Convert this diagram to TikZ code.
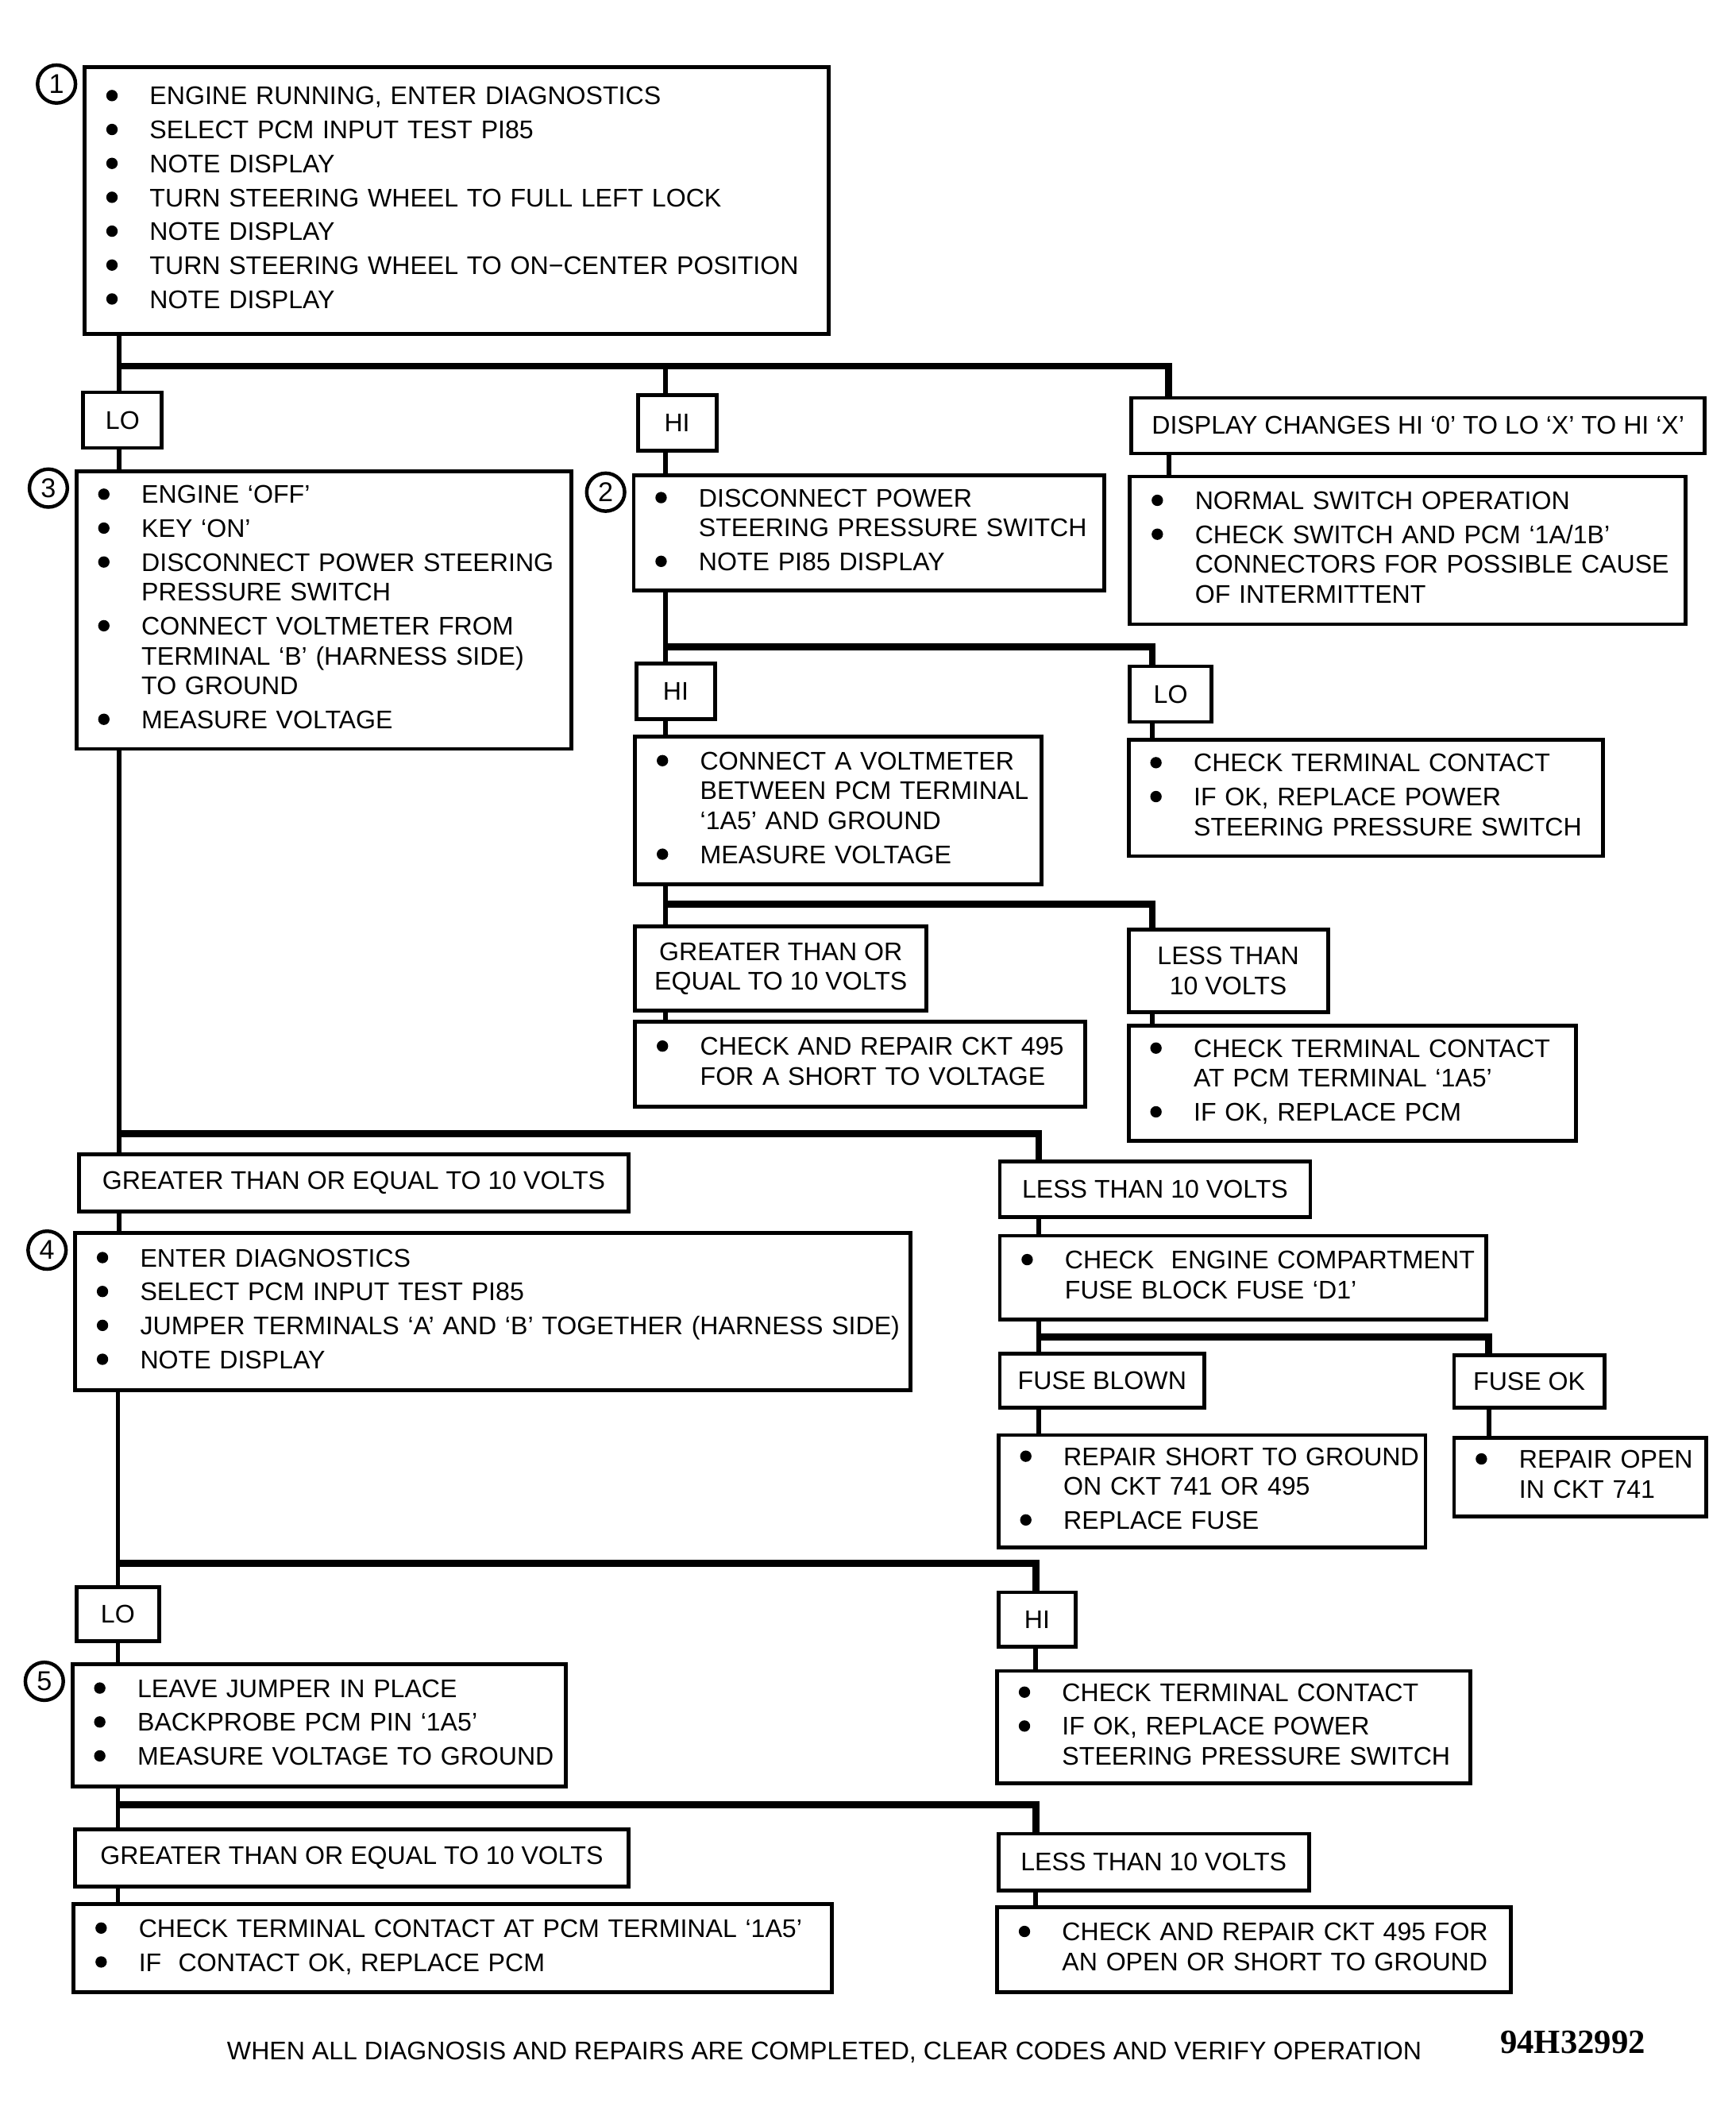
\documentclass[tikz,border=0pt]{standalone}
\usepackage{fontspec}
\setmainfont{Liberation Sans}
\newfontfamily\idfont{Liberation Serif}
\usetikzlibrary{positioning}

% bullet lists: \itm starts an item, \cnt adds a line to it
\newcommand{\itmdot}{\tikz[baseline=0pt, x=1pt, y=1pt]\fill (0,3.4) circle[radius=2.1pt];}
\newcommand{\itmlist}[1]{\noindent\gdef\itmsep{\gdef\itmsep{\\[1.5pt]}}%
    \begin{tabular}[t]{@{}l@{}l@{}}#1\end{tabular}}
\newcommand{\itm}[1]{\itmsep\makebox[16pt][l]{\itmdot} & #1}
\newcommand{\cnt}[1]{\\ & #1}

\begin{document}
\begin{tikzpicture}[
                    x=0.5pt,
                    y=-0.5pt,
                    line join=miter,
                    every node/.style={font=\fontsize{9.4}{11}\selectfont},
                    flowframe/.style n args={4}{draw, rectangle, line width=1.4pt,
                        at={(#1,#2)}, anchor=north west, inner sep=0pt,
                        minimum width={(#3-#1)*0.5pt}, minimum height={(#4-#2)*0.5pt}},
                    listbox/.style n args={4}{flowframe={#1}{#2}{#3}{#4},
                        inner xsep=8pt, text width={(#3-#1)*0.5pt-16pt}},
                    stepno/.style={draw, circle, line width=1.3pt, minimum size=14pt,
                        inner sep=0pt, anchor=east, font=\fontsize{10}{10}\selectfont},
                    conn/.style={line width=1.7pt},
                    bus/.style={line width=2.5pt}
                ]
                \useasboundingbox (0,0) rectangle (1280,1568);

                % x of the connector lines
                \coordinate (colL) at (88,0);
                \coordinate (colL2) at (87,0);
                \coordinate (colM) at (491,0);
                \coordinate (colR1) at (862,0);
                \coordinate (colR2) at (850,0);
                \coordinate (colR3) at (766,0);
                \coordinate (colR4) at (1098,0);
                \coordinate (colR5) at (764,0);

                % step 1
                \node[listbox={61}{48}{610}{245}] (engrun) {\itmlist{%
                    \itm{ENGINE RUNNING, ENTER DIAGNOSTICS}
                    \itm{SELECT PCM INPUT TEST PI85}
                    \itm{NOTE DISPLAY}
                    \itm{TURN STEERING WHEEL TO FULL LEFT LOCK}
                    \itm{NOTE DISPLAY}
                    \itm{TURN STEERING WHEEL TO ON−CENTER POSITION}
                    \itm{NOTE DISPLAY}}} ;
                \node[flowframe={60}{288}{118}{329}] (lo1) {LO} ;
                \node[flowframe={469}{290}{527}{331}] (hi1) {HI} ;
                \node[flowframe={833}{292}{1256}{333}] (dispchg) {DISPLAY CHANGES HI `0' TO LO `X' TO HI `X'} ;
                \node[listbox={832}{350}{1242}{459}] (normal) {\itmlist{%
                    \itm{NORMAL SWITCH OPERATION}
                    \itm{CHECK SWITCH AND PCM `1A/1B'}\cnt{CONNECTORS FOR POSSIBLE CAUSE}\cnt{OF INTERMITTENT}}} ;

                % step 3 and step 2
                \node[listbox={55}{346}{420}{551}] (step3) {\itmlist{%
                    \itm{ENGINE `OFF'}
                    \itm{KEY `ON'}
                    \itm{DISCONNECT POWER STEERING}\cnt{PRESSURE SWITCH}
                    \itm{CONNECT VOLTMETER FROM}\cnt{TERMINAL `B' (HARNESS SIDE)}\cnt{TO GROUND}
                    \itm{MEASURE VOLTAGE}}} ;
                \node[listbox={466}{349}{813}{434}] (step2) {\itmlist{%
                    \itm{DISCONNECT POWER}\cnt{STEERING PRESSURE SWITCH}
                    \itm{NOTE PI85 DISPLAY}}} ;
                \node[flowframe={468}{488}{526}{529}] (hi2) {HI} ;
                \node[flowframe={832}{490}{892}{531}] (lo2) {LO} ;
                \node[listbox={467}{542}{767}{651}] (voltm) {\itmlist{%
                    \itm{CONNECT A VOLTMETER}\cnt{BETWEEN PCM TERMINAL}\cnt{`1A5' AND GROUND}
                    \itm{MEASURE VOLTAGE}}} ;
                \node[listbox={831}{544}{1181}{630}] (termsw1) {\itmlist{%
                    \itm{CHECK TERMINAL CONTACT}
                    \itm{IF OK, REPLACE POWER}\cnt{STEERING PRESSURE SWITCH}}} ;
                \node[flowframe={467}{682}{682}{744}, align=center] (ge1) {GREATER THAN OR\\EQUAL TO 10 VOLTS} ;
                \node[flowframe={831}{684}{978}{745}, align=center] (lt1) {LESS THAN\\10 VOLTS} ;
                \node[listbox={467}{752}{799}{815}] (rep495a) {\itmlist{%
                    \itm{CHECK AND REPAIR CKT 495}\cnt{FOR A SHORT TO VOLTAGE}}} ;
                \node[listbox={831}{755}{1161}{840}] (termpcm1) {\itmlist{%
                    \itm{CHECK TERMINAL CONTACT}\cnt{AT PCM TERMINAL `1A5'}
                    \itm{IF OK, REPLACE PCM}}} ;

                % step 4
                \node[flowframe={57}{850}{462}{892}] (ge2) {GREATER THAN OR EQUAL TO 10 VOLTS} ;
                \node[listbox={54}{908}{670}{1024}] (step4) {\itmlist{%
                    \itm{ENTER DIAGNOSTICS}
                    \itm{SELECT PCM INPUT TEST PI85}
                    \itm{JUMPER TERMINALS `A' AND `B' TOGETHER (HARNESS SIDE)}
                    \itm{NOTE DISPLAY}}} ;
                \node[flowframe={736}{855}{965}{896}] (lt2) {LESS THAN 10 VOLTS} ;
                \node[listbox={736}{910}{1095}{972}] (fusechk) {\itmlist{%
                    \itm{CHECK\ \ ENGINE COMPARTMENT}\cnt{FUSE BLOCK FUSE `D1'}}} ;
                \node[flowframe={736}{997}{887}{1037}] (blown) {FUSE BLOWN} ;
                \node[flowframe={1071}{998}{1182}{1037}] (fuseok) {FUSE OK} ;
                \node[listbox={735}{1057}{1050}{1140}] (repshort) {\itmlist{%
                    \itm{REPAIR SHORT TO GROUND}\cnt{ON CKT 741 OR 495}
                    \itm{REPLACE FUSE}}} ;
                \node[listbox={1071}{1059}{1257}{1117}] (repopen) {\itmlist{%
                    \itm{REPAIR OPEN}\cnt{IN CKT 741}}} ;

                % step 5
                \node[flowframe={55}{1169}{116}{1209}] (lo3) {LO} ;
                \node[flowframe={735}{1173}{792}{1213}] (hi3) {HI} ;
                \node[listbox={52}{1226}{416}{1316}] (step5) {\itmlist{%
                    \itm{LEAVE JUMPER IN PLACE}
                    \itm{BACKPROBE PCM PIN `1A5'}
                    \itm{MEASURE VOLTAGE TO GROUND}}} ;
                \node[listbox={734}{1231}{1083}{1314}] (termsw2) {\itmlist{%
                    \itm{CHECK TERMINAL CONTACT}
                    \itm{IF OK, REPLACE POWER}\cnt{STEERING PRESSURE SWITCH}}} ;
                \node[flowframe={54}{1348}{462}{1390}] (ge3) {GREATER THAN OR EQUAL TO 10 VOLTS} ;
                \node[flowframe={735}{1351}{964}{1393}] (lt3) {LESS THAN 10 VOLTS} ;
                \node[listbox={53}{1403}{612}{1468}] (termpcm2) {\itmlist{%
                    \itm{CHECK TERMINAL CONTACT AT PCM TERMINAL `1A5'}
                    \itm{IF\ \ CONTACT OK, REPLACE PCM}}} ;
                \node[listbox={734}{1405}{1113}{1468}] (rep495b) {\itmlist{%
                    \itm{CHECK AND REPAIR CKT 495 FOR}\cnt{AN OPEN OR SHORT TO GROUND}}} ;

                % step numbers
                \node[stepno] (no1) at ([xshift=-2pt, yshift=-7pt]engrun.north west) {1} ;
                \node[stepno] (no2) at ([xshift=-2pt, yshift=-7pt]step2.north west) {2} ;
                \node[stepno] (no3) at ([xshift=-2pt, yshift=-7pt]step3.north west) {3} ;
                \node[stepno] (no4) at ([xshift=-2pt, yshift=-7pt]step4.north west) {4} ;
                \node[stepno] (no5) at ([xshift=-2pt, yshift=-7pt]step5.north west) {5} ;

                \node (footer) at (608,1514) {WHEN ALL DIAGNOSIS AND REPAIRS ARE COMPLETED, CLEAR CODES AND VERIFY OPERATION} ;
                \node[font=\idfont\bfseries\fontsize{12.5}{14}\selectfont] (figid) at (1160,1506) {94H32992} ;

                % splits
                \coordinate (busA) at (88,270);
                \coordinate (busB) at (491,477);
                \coordinate (busC) at (491,667);
                \coordinate (busD) at (88,836);
                \coordinate (busE) at (766,986);
                \coordinate (busF) at (87,1153);
                \coordinate (busG) at (87,1331);

                \draw[bus] (busA) -| (dispchg.north -| colR1) ;
                \draw[bus] (busB) -| (lo2.north -| colR2) ;
                \draw[bus] (busC) -| (lt1.north -| colR2) ;
                \draw[bus] (busD) -| (lt2.north -| colR3) ;
                \draw[bus] (busE) -| (fuseok.north -| colR4) ;
                \draw[bus] (busF) -| (hi3.north -| colR5) ;
                \draw[bus] (busG) -| (lt3.north -| colR5) ;

                \path[conn]
                (engrun.south -| colL) edge (lo1.north -| colL)
                (busA -| colM) edge (hi1.north -| colM)
                (lo1.south -| colL) edge (step3.north -| colL)
                (hi1.south -| colM) edge (step2.north -| colM)
                (dispchg.south -| colR1) edge (normal.north -| colR1)
                (step2.south -| colM) edge (hi2.north -| colM)
                (hi2.south -| colM) edge (voltm.north -| colM)
                (lo2.south -| colR2) edge (termsw1.north -| colR2)
                (voltm.south -| colM) edge (ge1.north -| colM)
                (ge1.south -| colM) edge (rep495a.north -| colM)
                (lt1.south -| colR2) edge (termpcm1.north -| colR2)
                (step3.south -| colL) edge (ge2.north -| colL)
                (ge2.south -| colL) edge (step4.north -| colL)
                (lt2.south -| colR3) edge (fusechk.north -| colR3)
                (fusechk.south -| colR3) edge (blown.north -| colR3)
                (blown.south -| colR3) edge (repshort.north -| colR3)
                (fuseok.south -| colR4) edge (repopen.north -| colR4)
                (step4.south -| colL2) edge (lo3.north -| colL2)
                (lo3.south -| colL2) edge (step5.north -| colL2)
                (hi3.south -| colR5) edge (termsw2.north -| colR5)
                (step5.south -| colL2) edge (ge3.north -| colL2)
                (ge3.south -| colL2) edge (termpcm2.north -| colL2)
                (lt3.south -| colR5) edge (rep495b.north -| colR5)
                ;
            \end{tikzpicture}
\end{document}
